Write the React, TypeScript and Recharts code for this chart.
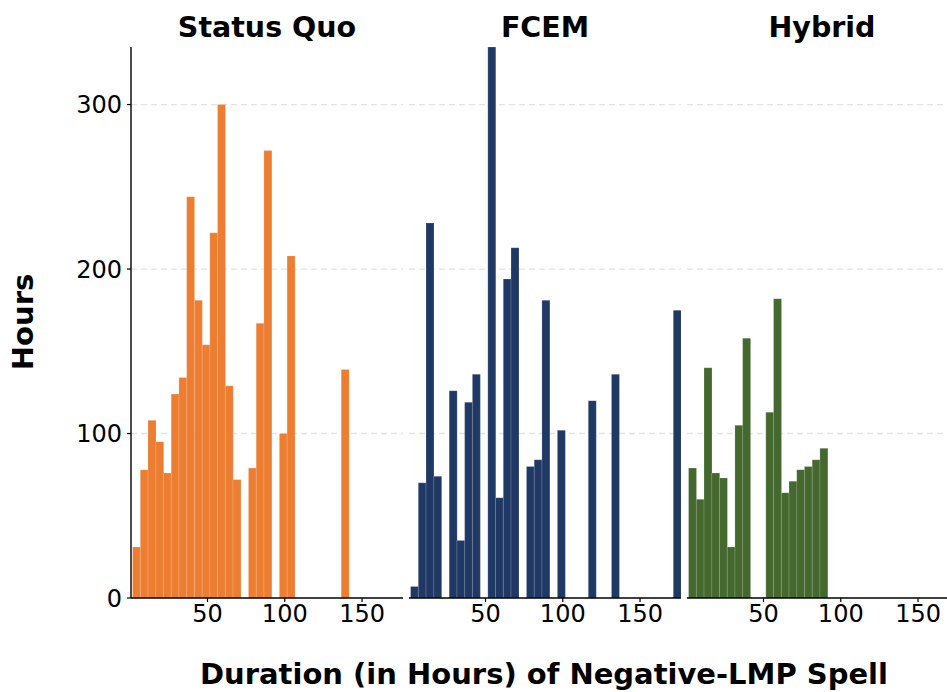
import React from "react";
import { BarChart, Bar, XAxis, YAxis, CartesianGrid } from "recharts";

// Histogram bin centres (hours), bin width 5
const binCenters = [
  4, 9, 14, 19, 24, 29, 34, 39, 44, 49, 54, 59, 64, 69, 74, 79, 84, 89, 94, 99,
  104, 109, 114, 119, 124, 129, 134, 139, 144, 149, 154, 159, 164, 169, 174,
];

const statusQuo = [
  31, 78, 108, 95, 76, 124, 134, 244, 181, 154, 222, 300, 129, 72, 0, 79, 167, 272, 0, 100,
  208, 0, 0, 0, 0, 0, 0, 139, 0, 0, 0, 0, 0, 0, 0,
];

const fcem = [
  7, 70, 228, 74, 0, 126, 35, 119, 136, 0, 335, 61, 194, 213, 0, 80, 84, 181, 0, 102,
  0, 0, 0, 120, 0, 0, 136, 0, 0, 0, 0, 0, 0, 0, 175,
];

const hybrid = [
  79, 60, 140, 76, 73, 31, 105, 158, 0, 0, 113, 182, 64, 71, 78, 80, 84, 91, 0, 0,
  0, 0, 0, 0, 0, 0, 0, 0, 0, 0, 0, 0, 0, 0, 0,
];

const xTicks = [50, 100, 150];
const yTicks = [0, 100, 200, 300];
const yDomain = [0, 335];
const gridValues = [100, 200, 300];
const panelTitles = ["Status Quo", "FCEM", "Hybrid"];
const xTitle = "Duration (in Hours) of Negative-LMP Spell";
const yTitle = "Hours";

const data = binCenters.map((x, i) => ({
  x,
  statusQuo: statusQuo[i],
  fcem: fcem[i],
  hybrid: hybrid[i],
}));

const FONT = "'DejaVu Sans', Verdana, sans-serif";
const tickStyle = { fontSize: 24, fill: "#000", fontFamily: FONT };

const gridGenerator = (props: any) => {
  const sc = props && props.yAxis && props.yAxis.scale;
  if (typeof sc === "function") return gridValues.map((v) => sc(v));
  if (sc && typeof sc.map === "function") return gridValues.map((v) => sc.map(v));
  const off = props.offset;
  return gridValues.map(
    (v) => off.top + off.height * (1 - (v - yDomain[0]) / (yDomain[1] - yDomain[0]))
  );
};

type PanelProps = {
  left: number;
  width: number;
  dataKey: string;
  color: string;
  showY: boolean;
};

function Panel({ left, width, dataKey, color, showY }: PanelProps) {
  return (
    <div style={{ position: "absolute", left, top: 0 }}>
      <BarChart
        width={width}
        height={692}
        data={data}
        margin={{ top: 47, right: 0, bottom: 64, left: 0 }}
        barCategoryGap={0}
        barGap={0}
      >
        <CartesianGrid
          vertical={false}
          stroke="#e3e3e3"
          strokeDasharray="6 4"
          strokeWidth={1.3}
          horizontalCoordinatesGenerator={gridGenerator}
        />
        <XAxis
          dataKey="x"
          type="number"
          domain={[0.5, 176.5]}
          allowDataOverflow
          ticks={xTicks}
          height={30}
          tick={tickStyle}
          tickSize={4}
          tickMargin={3}
          axisLine={{ stroke: "#000", strokeWidth: 1.4 }}
          tickLine={{ stroke: "#000", strokeWidth: 1.2 }}
          interval={0}
        />
        <YAxis
          type="number"
          domain={yDomain}
          allowDataOverflow
          ticks={yTicks}
          width={131}
          hide={!showY}
          tick={tickStyle}
          tickSize={4}
          tickMargin={5}
          axisLine={{ stroke: "#000", strokeWidth: 1.4 }}
          tickLine={{ stroke: "#000", strokeWidth: 1.2 }}
          interval={0}
        />
        <Bar
          dataKey={dataKey}
          fill={color}
          stroke="#ffffff"
          strokeOpacity={0.5}
          strokeWidth={0.4}
          isAnimationActive={false}
        />
      </BarChart>
    </div>
  );
}

export default function App() {
  return (
    <div
      style={{
        position: "absolute",
        left: 0,
        top: 0,
        width: 947,
        height: 692,
        overflow: "hidden",
        background: "#fff",
        fontFamily: FONT,
      }}
    >
      <Panel left={0} width={403} dataKey="statusQuo" color="#ED7D31" showY={true} />
      <Panel left={409} width={272} dataKey="fcem" color="#203864" showY={false} />
      <Panel left={687} width={272} dataKey="hybrid" color="#44682D" showY={false} />
      <svg
        width={947}
        height={692}
        style={{ position: "absolute", left: 0, top: 0, pointerEvents: "none" }}
      >
        <g fontFamily={FONT} fontWeight="bold" fill="#000">
          <text x={267} y={37} fontSize={28.5} textAnchor="middle">
            {panelTitles[0]}
          </text>
          <text x={545} y={37} fontSize={28.5} textAnchor="middle">
            {panelTitles[1]}
          </text>
          <text x={822} y={37} fontSize={28.5} textAnchor="middle">
            {panelTitles[2]}
          </text>
          <text
            x={33}
            y={322}
            fontSize={29}
            textAnchor="middle"
            transform="rotate(-90, 33, 322)"
          >
            {yTitle}
          </text>
          <text x={544} y={684} fontSize={29} textAnchor="middle">
            {xTitle}
          </text>
        </g>
      </svg>
    </div>
  );
}
